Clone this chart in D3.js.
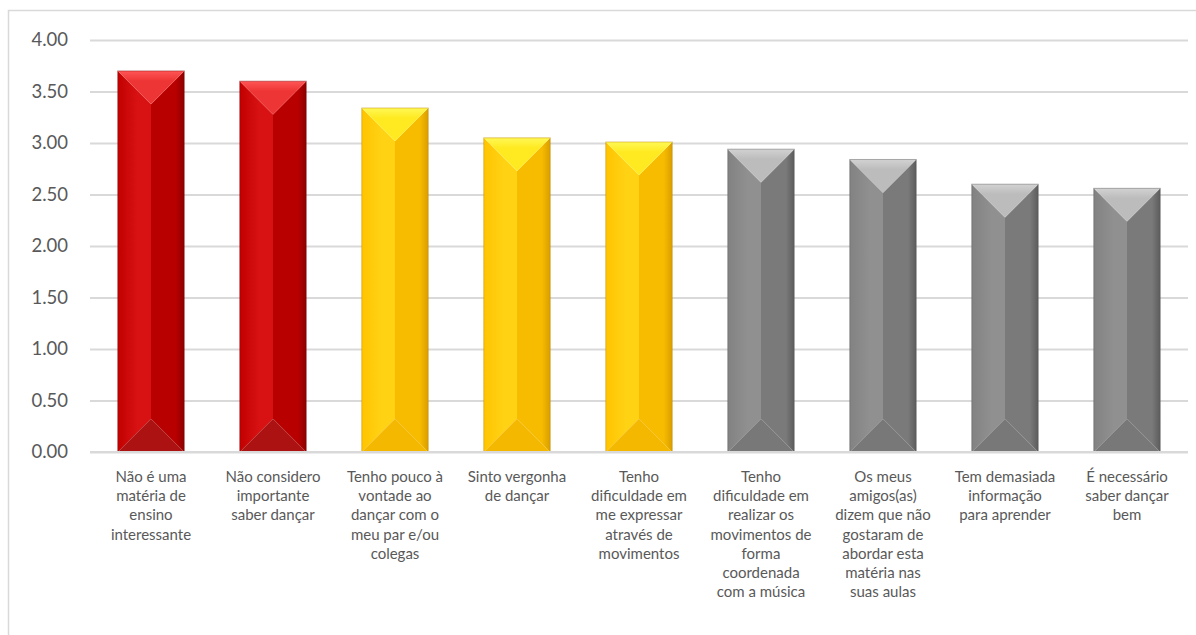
<!DOCTYPE html>
<html><head><meta charset="utf-8">
<script src="https://cdn.jsdelivr.net/npm/d3@7"></script>
<style>body{margin:0;background:#fff}svg{display:block}</style>
</head><body>
<svg id="c" width="1196" height="635"></svg>
<script>
const categories = [
  ["Não é uma","matéria de","ensino","interessante"],
  ["Não considero","importante","saber dançar"],
  ["Tenho pouco à","vontade ao","dançar com o","meu par e/ou","colegas"],
  ["Sinto vergonha","de dançar"],
  ["Tenho","dificuldade em","me expressar","através de","movimentos"],
  ["Tenho","dificuldade em","realizar os","movimentos de","forma","coordenada","com a música"],
  ["Os meus","amigos(as)","dizem que não","gostaram de","abordar esta","matéria nas","suas aulas"],
  ["Tem demasiada","informação","para aprender"],
  ["É necessário","saber dançar","bem"]
];
const values = [3.70, 3.60, 3.34, 3.05, 3.01, 2.94, 2.84, 2.60, 2.56];
const colorGroup = ["red","red","yellow","yellow","yellow","gray","gray","gray","gray"];
const yTicks = [0,0.5,1,1.5,2,2.5,3,3.5,4];

const palettes = {
  red:    {l0:"#c20000", l1:"#d81212", r0:"#b80000", r1:"#8c0000", top:"#ee3535", topHi:"#ff5555", bot:"#ad1212", edge:"#7a0000"},
  yellow: {l0:"#ffc400", l1:"#ffd214", r0:"#f7bb00", r1:"#d99e00", top:"#ffea22", topHi:"#fff855", bot:"#f4b800", edge:"#b88400"},
  gray:   {l0:"#828282", l1:"#909090", r0:"#7a7a7a", r1:"#5c5c5c", top:"#bcbcbc", topHi:"#d2d2d2", bot:"#787878", edge:"#555555"}
};

const svg = d3.select("#c");
const m = {left:90, right:1188, top:40, bottom:452};
const x = d3.scaleBand().domain(d3.range(values.length)).range([m.left, m.right]).paddingInner(0.455).paddingOuter(0.2275);
const y = d3.scaleLinear().domain([0,4]).range([m.bottom, m.top]);

// outer border
svg.append("rect").attr("x",8.5).attr("y",10.5).attr("width",1220).attr("height",700)
  .attr("fill","none").attr("stroke","#d9d9d9").attr("stroke-width",1.5);

const defs = svg.append("defs");
Object.entries(palettes).forEach(([k,p])=>{
  const gl = defs.append("linearGradient").attr("id","L"+k).attr("x1","0").attr("x2","1").attr("y1","0").attr("y2","0");
  gl.append("stop").attr("offset","0").attr("stop-color",p.l0);
  gl.append("stop").attr("offset","0.6").attr("stop-color",p.l1);
  gl.append("stop").attr("offset","1").attr("stop-color",p.l1);
  const gr = defs.append("linearGradient").attr("id","R"+k).attr("x1","0").attr("x2","1").attr("y1","0").attr("y2","0");
  gr.append("stop").attr("offset","0").attr("stop-color",p.r0);
  gr.append("stop").attr("offset","0.75").attr("stop-color",p.r0);
  gr.append("stop").attr("offset","1").attr("stop-color",p.r1);
  const gt = defs.append("linearGradient").attr("id","T"+k).attr("x1","0").attr("x2","0").attr("y1","0").attr("y2","1");
  gt.append("stop").attr("offset","0").attr("stop-color",p.topHi);
  gt.append("stop").attr("offset","0.3").attr("stop-color",p.top);
  gt.append("stop").attr("offset","1").attr("stop-color",p.top);
});

// gridlines
const yAxis = d3.axisLeft(y).tickValues(yTicks).tickFormat(d3.format(".2f")).tickSize(-(m.right-m.left)).tickPadding(22);
const ga = svg.append("g").attr("transform",`translate(${m.left},0)`).call(yAxis);
ga.select(".domain").remove();
ga.selectAll(".tick line").attr("stroke","#d9d9d9").attr("stroke-width",2);
ga.selectAll(".tick text").attr("fill","#595959").style("font-family","Lato, 'Open Sans', sans-serif").style("font-size","18.5px");

// bars
const bars = svg.append("g").selectAll("g").data(values).join("g");
bars.each(function(v,i){
  const g = d3.select(this);
  const p = colorGroup[i];
  const x0 = x(i), x1 = x(i)+x.bandwidth(), xc = (x0+x1)/2;
  const yt = y(v), yb = y(0);
  const d = Math.min(x.bandwidth()/2, (yb-yt)/2);
  const poly = pts => "M"+pts.map(q=>q.join(",")).join("L")+"Z";
  g.append("path").attr("d",poly([[x0,yt],[xc,yt+d],[xc,yb-d],[x0,yb]])).attr("fill",`url(#L${p})`);
  g.append("path").attr("d",poly([[xc,yt+d],[x1,yt],[x1,yb],[xc,yb-d]])).attr("fill",`url(#R${p})`);
  g.append("path").attr("d",poly([[x0,yt],[x1,yt],[xc,yt+d]])).attr("fill",`url(#T${p})`);
  g.append("path").attr("d",poly([[x0,yb],[xc,yb-d],[x1,yb]])).attr("fill",palettes[p].bot);
  g.append("rect").attr("x",x0).attr("y",yt).attr("width",x1-x0).attr("height",yb-yt)
    .attr("fill","none").attr("stroke",palettes[p].edge).attr("stroke-opacity",0.45).attr("stroke-width",1);
});

// baseline
svg.append("line").attr("x1",m.left).attr("x2",m.right).attr("y1",y(0)).attr("y2",y(0)).attr("stroke","#d9d9d9").attr("stroke-width",2);

// category labels
const lab = svg.append("g").selectAll("text").data(categories).join("text")
  .attr("x",(d,i)=>x(i)+x.bandwidth()/2).attr("y",482)
  .attr("text-anchor","middle").attr("fill","#595959")
  .style("font-family","Lato, 'Open Sans', sans-serif").style("font-size","15px");
lab.each(function(lines){
  const t = d3.select(this);
  lines.forEach((s,j)=>t.append("tspan").attr("x",t.attr("x")).attr("dy", j===0?0:19.2).text(s));
});
</script>
</body></html>
